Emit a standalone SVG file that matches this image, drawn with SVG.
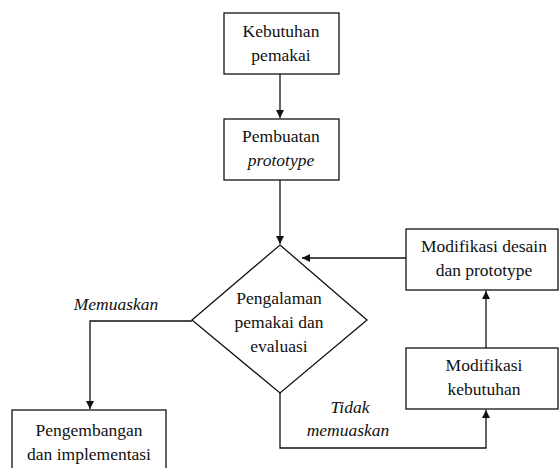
<svg xmlns="http://www.w3.org/2000/svg" width="559" height="468" viewBox="0 0 559 468">
<defs>
<marker id="ah" markerWidth="9" markerHeight="8" refX="8" refY="4" orient="auto" markerUnits="userSpaceOnUse">
<path d="M0,0 L8,4 L0,8 z" fill="#111"/>
</marker>
<style>
.box{fill:#fff;stroke:#111;stroke-width:1.3}
.c{fill:none;stroke:#111;stroke-width:1.3}
</style>
</defs>
<rect width="559" height="468" fill="#fff"/>
<g id="connectors">
<path class="c" d="M280,74 V118" marker-end="url(#ah)"/>
<path class="c" d="M280,180 V244" marker-end="url(#ah)"/>
<path class="c" d="M406,258 H302" marker-end="url(#ah)"/>
<path class="c" d="M486,348 V291" marker-end="url(#ah)"/>
<path class="c" d="M280,393 V448 H486 V410" marker-end="url(#ah)"/>
<path class="c" d="M192,321 H90 V409" marker-end="url(#ah)"/>
</g>
<g font-family="Liberation Serif, Times New Roman, serif" font-size="17.5" fill="#111" text-anchor="middle">
<g id="n1">
<rect class="box" x="224" y="13" width="115" height="61"/>
<text x="281" y="37">Kebutuhan</text>
<text x="281" y="61">pemakai</text>
</g>
<g id="n2">
<rect class="box" x="224" y="119" width="115" height="61"/>
<text x="281" y="142">Pembuatan</text>
<text x="281" y="166" font-style="italic">prototype</text>
</g>
<g id="n3">
<path class="box" d="M280,245 L367,320 L280,393 L192,320 Z"/>
<text x="279" y="304">Pengalaman</text>
<text x="279" y="328">pemakai dan</text>
<text x="279" y="352">evaluasi</text>
</g>
<g id="n4">
<rect class="box" x="406" y="229" width="152" height="61"/>
<text x="484" y="252">Modifikasi desain</text>
<text x="484" y="276">dan prototype</text>
</g>
<g id="n5">
<rect class="box" x="406" y="348" width="152" height="61"/>
<text x="484" y="371">Modifikasi</text>
<text x="484" y="395">kebutuhan</text>
</g>
<g id="n6">
<rect class="box" x="12" y="410" width="154" height="62"/>
<text x="89" y="436">Pengembangan</text>
<text x="89" y="460">dan implementasi</text>
</g>
<g id="labels" font-style="italic">
<text x="116" y="310">Memuaskan</text>
<text x="350" y="413">Tidak</text>
<text x="348" y="436">memuaskan</text>
</g>
</g>
</svg>
